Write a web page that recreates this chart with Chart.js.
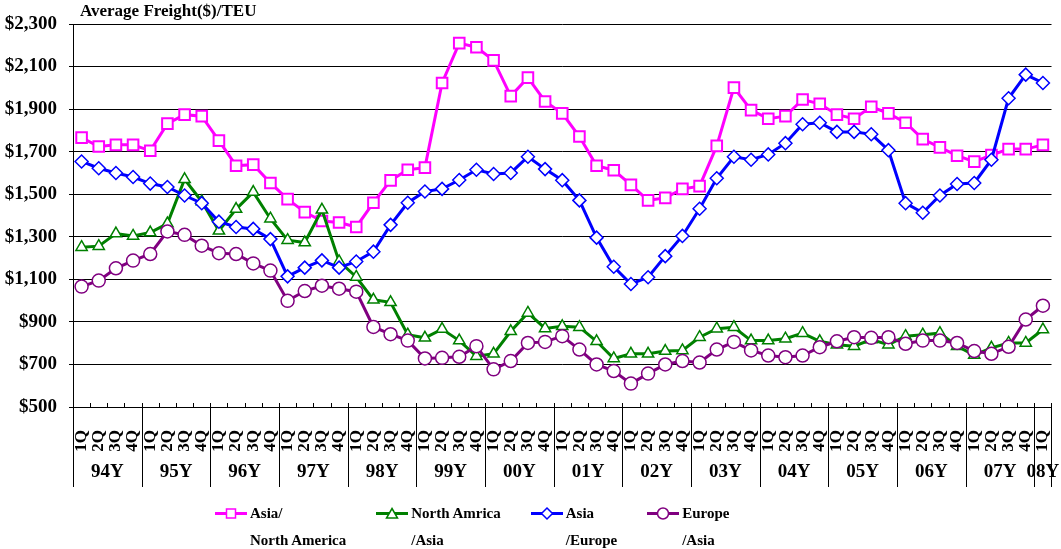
<!DOCTYPE html>
<html>
<head>
<meta charset="utf-8">
<script src="https://cdn.jsdelivr.net/npm/chart.js@4.4.1/dist/chart.umd.min.js"></script>
<style>
  html, body { margin:0; padding:0; background:#fff; }
  #wrap { position:relative; width:1061px; height:549px; overflow:hidden;
          font-family:"Liberation Serif", "Times New Roman", serif; font-weight:bold; color:#000; }
  #chart { position:absolute; left:0; top:0; }
  #title { position:absolute; left:80px; top:0; font-size:17px; line-height:22px; }
  #legend { position:absolute; left:215px; top:500px; display:flex; gap:30px; }
  .item { display:flex; align-items:flex-start; }
  .item svg { flex:none; margin-right:3px; }
  .item div { font-size:15px; line-height:27px; white-space:nowrap; }
</style>
</head>
<body>
<div id="wrap">
  <canvas id="chart" width="1061" height="549"></canvas>
  <div id="title">Average Freight($)/TEU</div>
  <div id="legend"></div>
</div>
<script>
const years = ['94Y','95Y','96Y','97Y','98Y','99Y','00Y','01Y','02Y','03Y','04Y','05Y','06Y','07Y','08Y'];
const quarters = ['1Q','2Q','3Q','4Q'];

// quarterly values, 94Y 1Q .. 08Y 1Q
const asiaNorthAmerica = [1766,1724,1732,1732,1704,1832,1874,1867,1752,1634,1639,1553,1477,1416,1374,1367,1346,1460,1565,
  1615,1625,2023,2210,2191,2129,1961,2048,1936,1880,1771,1634,1613,1544,1471,1483,1525,1538,1727,2001,1895,
  1855,1867,1945,1925,1874,1855,1911,1880,1836,1759,1720,1681,1653,1684,1712,1712,1732];
const northAmericaAsia = [1251,1256,1315,1304,1320,1362,1570,1466,1328,1430,1510,1385,1284,1273,1427,1184,1111,1004,992,
  840,825,866,812,739,750,856,942,869,879,875,809,728,750,750,763,766,828,868,875,812,
  812,821,847,809,793,786,817,793,833,840,847,786,744,778,801,801,864];
const asiaEurope = [1654,1622,1600,1581,1550,1534,1494,1458,1371,1346,1337,1289,1114,1155,1189,1155,1184,1230,1356,
  1460,1513,1525,1567,1615,1595,1600,1676,1618,1566,1471,1296,1159,1078,1110,1209,1304,1432,1575,1676,1662,
  1687,1740,1829,1836,1793,1793,1782,1707,1458,1413,1494,1548,1553,1662,1951,2062,2023];
const europeAsia = [1066,1094,1152,1188,1219,1325,1309,1258,1223,1219,1175,1141,999,1045,1070,1056,1042,876,842,
  812,728,731,736,786,677,716,801,806,833,770,700,669,610,657,700,716,709,770,806,766,
  742,734,742,781,809,828,825,828,797,812,812,801,763,750,783,911,976];

const seriesNames = [['Asia/','North America'], ['North Amrica','/Asia'], ['Asia','/Europe'], ['Europe','/Asia']];
const seriesColors = ['#ff00ff','#008000','#0000ff','#800080'];
const seriesMarkers = ['rect','triangle','rectRot','circle'];
const markerSizes = [7.5, 6.5, 6.5, 6.5];

const yMin = 500, yMax = 2300, yStep = 200;

(() => {
  const series = [asiaNorthAmerica, northAmericaAsia, asiaEurope, europeAsia];
  const n = asiaNorthAmerica.length;
  const labels = [];
  for (let i = 0; i < n; i++) labels.push(quarters[i % 4]);

  const serif = '"Liberation Serif", "Times New Roman", serif';

  // quarter ticks, year separators and year names under the axis
  const axisMarks = {
    id: 'axisMarks',
    afterDraw(chart){
      const { ctx, chartArea } = chart;
      const x = chart.scales.x;
      const half = (x.getPixelForValue(1) - x.getPixelForValue(0)) / 2;
      const bottom = chartArea.bottom;
      ctx.save();
      ctx.strokeStyle = '#000';
      ctx.lineWidth = 1;
      ctx.beginPath();
      for (let i = 0; i <= n; i++) {
        const px = Math.round(i < n ? x.getPixelForValue(i) - half : x.getPixelForValue(n - 1) + half) + 0.5;
        ctx.moveTo(px, bottom - 4);
        ctx.lineTo(px, (i % 4 === 0 || i === n) ? bottom + x.height : bottom);
      }
      ctx.stroke();
      ctx.fillStyle = '#000';
      ctx.font = 'bold 19px ' + serif;
      ctx.textAlign = 'center';
      ctx.textBaseline = 'middle';
      years.forEach((yr, k) => {
        const first = k * 4;
        if (first >= n) return;
        const last = Math.min(first + 3, n - 1);
        const cx = (x.getPixelForValue(first) + x.getPixelForValue(last)) / 2;
        ctx.fillText(yr, cx, bottom + 65);
      });
      ctx.restore();
    }
  };

  new Chart(document.getElementById('chart'), {
    type: 'line',
    data: {
      labels,
      datasets: series.map((data, k) => ({
        label: seriesNames[k].join(' '),
        data,
        borderColor: seriesColors[k],
        backgroundColor: '#fff',
        pointBackgroundColor: '#fff',
        pointBorderColor: seriesColors[k],
        pointStyle: seriesMarkers[k],
        pointRadius: markerSizes[k],
        pointBorderWidth: k === 0 ? 2 : 1.5,
        borderWidth: 3,
        tension: 0,
        order: 4 - k
      }))
    },
    options: {
      responsive: false,
      animation: false,
      layout: { padding: { top: 24, right: 8, bottom: 62, left: 0 } },
      plugins: { legend: { display: false }, tooltip: { enabled: false }, title: { display: false } },
      scales: {
        x: {
          type: 'category',
          offset: true,
          grid: { display: false },
          border: { display: true, color: '#000', width: 1 },
          ticks: {
            autoSkip: false, minRotation: 90, maxRotation: 90, padding: 15,
            color: '#000', font: { family: serif, size: 17, weight: 'bold', lineHeight: 0.9 }
          },
          afterFit(scale){
            scale.height = 80;
            scale.paddingLeft = 0;
            scale.paddingRight = 0;
          }
        },
        y: {
          min: yMin, max: yMax,
          grid: { color: '#000', lineWidth: 1, tickLength: 4 },
          border: { display: true, color: '#000', width: 1 },
          ticks: {
            stepSize: yStep, padding: 12, color: '#000',
            font: { family: serif, size: 19, weight: 'bold' },
            callback: v => '$' + Number(v).toLocaleString('en-US')
          },
          afterFit(scale){ scale.width = 73; }
        }
      }
    },
    plugins: [axisMarks]
  });

  // legend: line with marker, two-line name
  function swatch(k){
    const c = seriesColors[k];
    const shape = {
      rect: '<rect x="11.5" y="9" width="9" height="9"/>',
      triangle: '<polygon points="16,8.5 21.5,18 10.5,18"/>',
      rectRot: '<polygon points="16,8 21.5,13.5 16,19 10.5,13.5"/>',
      circle: '<circle cx="16" cy="13.5" r="5.5"/>'
    }[seriesMarkers[k]];
    return `<svg width="32" height="27"><line x1="0" y1="13.5" x2="32" y2="13.5" stroke="${c}" stroke-width="3"/>` +
      `<g fill="#fff" stroke="${c}" stroke-width="1.5">${shape}</g></svg>`;
  }
  const legend = document.getElementById('legend');
  seriesNames.forEach((name, k) => {
    const item = document.createElement('div');
    item.className = 'item';
    item.innerHTML = swatch(k) + `<div>${name[0]}<br>${name[1]}</div>`;
    legend.appendChild(item);
  });
})();
</script>
</body>
</html>
